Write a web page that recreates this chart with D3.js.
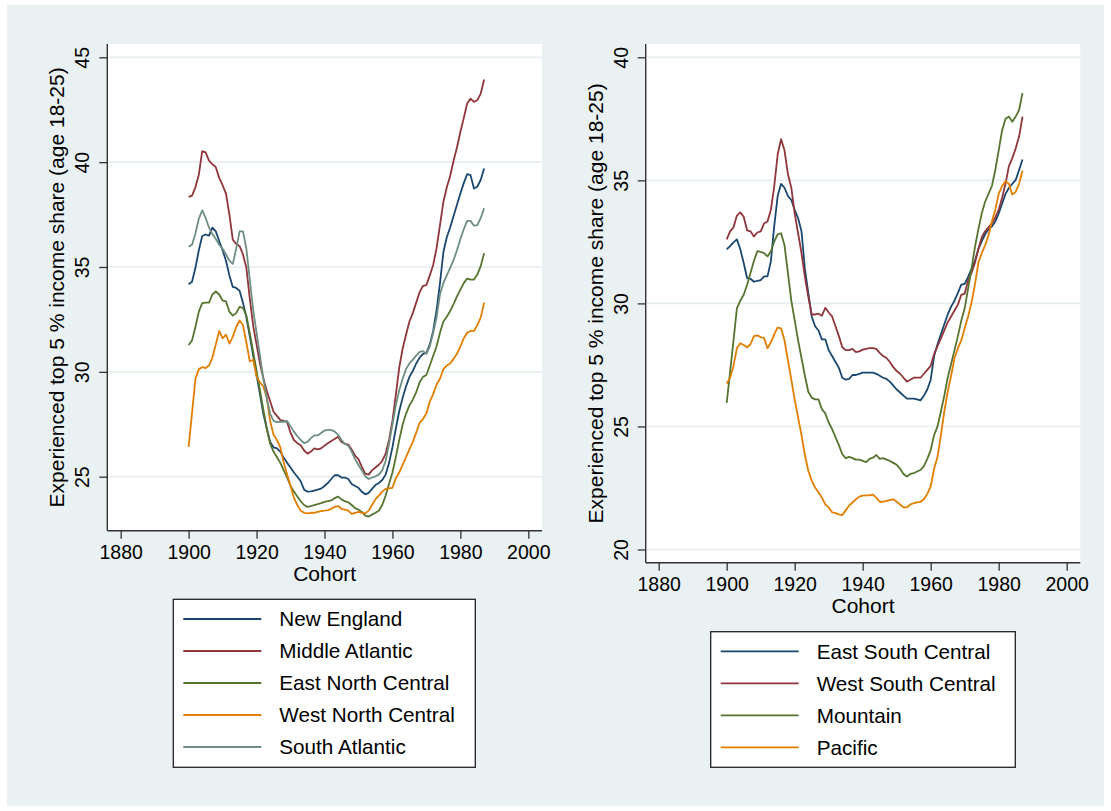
<!DOCTYPE html>
<html>
<head>
<meta charset="utf-8">
<script src="https://cdn.jsdelivr.net/npm/d3@7/dist/d3.min.js"></script>
<style>
body { margin: 0; background: #ffffff; }
text { font-family: Arial, "Liberation Sans", sans-serif; fill: #000000; }
</style>
</head>
<body>
<script>
// cohorts on the x axis
var cohorts = [1900,1901,1902,1903,1904,1905,1906,1907,1908,1909,
  1910,1911,1912,1913,1914,1915,1916,1917,1918,1919,
  1920,1921,1922,1923,1924,1925,1926,1927,1928,1929,
  1930,1931,1932,1933,1934,1935,1936,1937,1938,1939,
  1940,1941,1942,1943,1944,1945,1946,1947,1948,1949,
  1950,1951,1952,1953,1954,1955,1956,1957,1958,1959,
  1960,1961,1962,1963,1964,1965,1966,1967,1968,1969,
  1970,1971,1972,1973,1974,1975,1976,1977,1978,1979,
  1980,1981,1982,1983,1984,1985,1986,1987];

// left panel
var newEngland = [34.18,34.3,34.96,35.8,36.48,36.55,36.5,36.88,36.7,36.24,
  35.8,35.3,34.6,34.05,34.0,33.87,33.3,32.6,31.7,30.77,
  29.85,28.94,28.0,27.3,26.66,26.4,26.35,26.2,25.9,25.66,
  25.44,25.2,25.0,24.78,24.38,24.29,24.3,24.34,24.38,24.43,
  24.56,24.7,24.89,25.07,25.07,24.96,24.96,24.89,24.65,24.56,
  24.47,24.28,24.16,24.23,24.42,24.6,24.7,24.84,25.1,25.65,
  26.4,27.3,28.12,28.76,29.3,29.76,30.04,30.4,30.68,30.86,
  30.9,31.31,31.95,32.95,34.23,35.7,36.42,36.88,37.43,37.97,
  38.5,39.0,39.43,39.38,38.74,38.83,39.16,39.7];
var middleAtlantic = [38.34,38.4,38.8,39.4,40.53,40.47,40.07,39.9,39.76,39.25,
  38.9,38.5,37.5,36.3,36.1,36.0,35.6,34.96,33.5,32.2,
  31.3,30.4,29.7,29.1,28.6,28.1,27.9,27.7,27.67,27.6,
  27.1,26.75,26.6,26.5,26.25,26.1,26.2,26.35,26.3,26.35,
  26.48,26.6,26.7,26.8,26.9,26.66,26.57,26.53,26.3,26.0,
  25.84,25.47,25.15,25.1,25.3,25.44,25.57,25.75,26.1,26.75,
  27.66,28.9,30.2,31.1,31.77,32.4,32.8,33.3,33.8,34.1,
  34.14,34.6,35.1,35.9,37.0,38.1,38.8,39.34,40.07,40.7,
  41.44,42.1,42.8,43.03,42.87,42.96,43.27,43.94];
var eastNorthCentral = [31.28,31.5,32.14,32.87,33.28,33.3,33.3,33.69,33.83,33.69,
  33.4,33.36,32.87,32.68,32.8,33.1,33.05,32.68,31.86,30.95,
  30.04,29.12,28.2,27.3,26.57,26.2,25.93,25.66,25.3,24.96,
  24.56,24.29,24.05,23.83,23.65,23.56,23.6,23.65,23.69,23.74,
  23.8,23.83,23.87,23.98,24.05,23.92,23.83,23.78,23.65,23.5,
  23.43,23.32,23.14,23.1,23.19,23.28,23.38,23.65,24.1,24.65,
  25.2,25.93,26.75,27.48,28.0,28.4,28.67,29.03,29.5,29.76,
  29.85,30.3,30.77,31.22,31.86,32.4,32.63,32.9,33.23,33.6,
  33.92,34.23,34.45,34.4,34.4,34.64,35.05,35.66];
var westNorthCentral = [26.42,28.03,29.67,30.13,30.22,30.18,30.3,30.68,31.3,31.95,
  31.6,31.77,31.35,31.68,32.14,32.45,32.23,31.4,30.5,30.58,
  29.76,29.5,29.3,28.76,27.66,27.0,26.75,26.4,25.66,25.1,
  24.56,24.0,23.65,23.38,23.28,23.25,23.28,23.28,23.32,23.36,
  23.38,23.41,23.47,23.56,23.6,23.47,23.43,23.38,23.23,23.28,
  23.32,23.28,23.25,23.38,23.65,23.92,24.1,24.29,24.42,24.45,
  24.47,24.93,25.2,25.56,25.93,26.3,26.66,27.1,27.57,27.75,
  28.03,28.58,28.94,29.4,29.67,30.13,30.3,30.4,30.62,30.86,
  31.22,31.6,31.86,31.95,31.95,32.23,32.6,33.3];
var southAtlantic = [35.97,36.06,36.6,37.3,37.7,37.34,36.88,36.57,36.33,36.06,
  35.87,35.6,35.3,35.15,35.87,36.7,36.7,35.87,34.4,32.96,
  31.86,30.77,29.67,28.76,28.0,27.66,27.6,27.62,27.62,27.66,
  27.4,27.15,26.93,26.75,26.6,26.66,26.84,26.97,26.97,27.08,
  27.2,27.23,27.23,27.15,27.0,26.75,26.57,26.48,26.2,25.84,
  25.56,25.3,25.02,24.89,24.96,25.02,25.1,25.3,25.75,26.57,
  27.48,28.4,29.12,29.67,30.13,30.4,30.58,30.77,30.95,30.99,
  30.86,31.22,31.86,32.6,33.7,34.23,34.6,34.96,35.33,35.8,
  36.33,36.8,37.2,37.2,36.97,37.0,37.34,37.8];

// right panel
var eastSouthCentral = [32.2,32.33,32.48,32.6,32.2,31.64,31.03,31.0,30.88,30.92,
  30.95,31.1,31.1,31.72,33.17,34.37,34.86,34.7,34.37,34.2,
  33.8,33.46,32.93,31.4,30.43,29.47,29.07,28.9,28.54,28.54,
  28.1,27.86,27.62,27.38,26.98,26.9,26.93,27.09,27.09,27.14,
  27.19,27.19,27.19,27.19,27.14,27.06,26.98,26.93,26.82,26.66,
  26.5,26.38,26.25,26.13,26.13,26.13,26.1,26.06,26.25,26.5,
  26.9,27.86,28.34,28.75,29.15,29.55,29.87,30.11,30.43,30.76,
  30.79,31.08,31.4,31.72,32.2,32.52,32.81,33.0,33.13,33.33,
  33.65,34.05,34.45,34.69,34.86,35.02,35.42,35.85];
var westSouthCentral = [32.6,32.93,33.09,33.57,33.7,33.52,32.97,32.93,32.72,32.88,
  32.93,33.25,33.33,33.81,34.78,36.06,36.67,36.22,35.26,34.7,
  33.65,32.85,32.04,31.08,30.27,29.55,29.55,29.58,29.5,29.82,
  29.63,29.47,29.07,28.67,28.22,28.1,28.1,28.15,28.02,28.05,
  28.12,28.15,28.18,28.18,28.15,27.99,27.86,27.78,27.62,27.41,
  27.25,27.14,26.98,26.82,26.9,26.98,26.98,26.98,27.14,27.3,
  27.46,27.94,28.26,28.58,28.9,29.23,29.47,29.71,29.95,30.35,
  30.4,30.92,31.24,31.64,32.2,32.68,32.93,33.09,33.25,33.49,
  33.81,34.29,34.86,35.58,35.9,36.3,36.78,37.59];
var mountain = [25.96,27.22,28.5,29.8,30.11,30.35,30.76,31.24,31.72,32.12,
  32.09,32.04,31.91,32.12,32.52,32.81,32.85,32.36,31.24,30.11,
  29.31,28.5,27.78,27.06,26.41,26.17,26.1,26.1,25.7,25.53,
  25.16,24.89,24.57,24.24,23.87,23.71,23.76,23.71,23.65,23.65,
  23.6,23.55,23.68,23.73,23.84,23.68,23.71,23.65,23.6,23.52,
  23.44,23.28,23.07,22.96,23.07,23.1,23.17,23.23,23.39,23.68,
  24.04,24.65,25.0,25.61,26.25,26.98,27.54,28.1,28.67,29.31,
  29.8,30.6,31.4,32.28,33.0,33.65,34.13,34.45,34.77,35.42,
  36.22,37.03,37.5,37.59,37.38,37.59,37.86,38.55];
var pacific = [26.74,26.98,27.46,28.18,28.38,28.31,28.22,28.34,28.67,28.7,
  28.63,28.59,28.18,28.42,28.75,29.02,28.99,28.5,27.7,26.9,
  26.09,25.37,24.65,23.84,23.2,22.8,22.52,22.32,22.11,21.83,
  21.71,21.51,21.48,21.43,21.4,21.59,21.78,21.91,22.04,22.15,
  22.19,22.2,22.2,22.23,22.11,21.94,21.94,21.98,22.01,22.04,
  21.94,21.83,21.71,21.71,21.83,21.88,21.91,21.94,22.04,22.26,
  22.56,23.28,23.76,24.65,25.61,26.41,27.06,27.78,28.18,28.5,
  28.99,29.47,30.03,30.76,31.64,32.04,32.36,32.77,33.33,33.81,
  34.45,34.77,34.97,34.86,34.42,34.53,34.86,35.39];

var xTicks = [1880, 1900, 1920, 1940, 1960, 1980, 2000];
var leftYTicks = [25, 30, 35, 40, 45];
var rightYTicks = [20, 25, 30, 35, 40];
var leftNames = ["New England", "Middle Atlantic", "East North Central", "West North Central", "South Atlantic"];
var rightNames = ["East South Central", "West South Central", "Mountain", "Pacific"];

// stata s2color
var colors = ["#1a476f", "#90353b", "#55752f", "#e37e00", "#6e8e84"];
var yTitle = "Experienced top 5 % income share (age 18-25)";

var svg = d3.select("body").append("svg")
  .attr("width", 1111)
  .attr("height", 811);

svg.append("rect")
  .attr("x", 7).attr("y", 5)
  .attr("width", 1097).attr("height", 801)
  .attr("fill", "#eaf1f3");

function drawPanel(p) {
  var g = svg.append("g");
  var x = d3.scaleLinear().domain([1880, 2000]).range([p.x1880, p.x2000]);
  var y = d3.scaleLinear().domain([p.yTicks[0], p.yTicks[p.yTicks.length - 1]]).range([p.yLow, p.yHigh]);

  // plot region
  g.append("rect")
    .attr("x", p.left).attr("y", p.top)
    .attr("width", p.right - p.left).attr("height", p.bottom - p.top)
    .attr("fill", "#ffffff");

  // grid
  g.selectAll(".grid").data(p.yTicks).enter().append("line")
    .attr("x1", p.left).attr("x2", p.right)
    .attr("y1", function (d) { return y(d); })
    .attr("y2", function (d) { return y(d); })
    .attr("stroke", "#e6eef1")
    .attr("stroke-width", 1.6);

  // lines
  var line = d3.line()
    .x(function (d, i) { return x(cohorts[i]); })
    .y(function (d) { return y(d); })
    .curve(d3.curveLinear);
  p.series.forEach(function (s, i) {
    g.append("path")
      .attr("d", line(s))
      .attr("fill", "none")
      .attr("stroke", colors[i])
      .attr("stroke-width", 1.8)
      .attr("stroke-linejoin", "round");
  });

  // axes
  var ax = g.append("g")
    .attr("transform", "translate(0," + p.bottom + ")")
    .call(d3.axisBottom(x).tickValues(xTicks).tickSize(8).tickSizeOuter(0).tickFormat(d3.format("d")));
  ax.select(".domain").remove();
  ax.selectAll("line").attr("stroke", "#333333").attr("stroke-width", 1.3);
  ax.selectAll("text")
    .attr("y", 28).attr("dy", 0)
    .attr("font-size", "19.5px")
    .attr("font-family", "Arial, 'Liberation Sans', sans-serif")
    .attr("fill", "#000");

  var ay = g.append("g")
    .attr("transform", "translate(" + p.left + ",0)")
    .call(d3.axisLeft(y).tickValues(p.yTicks).tickSize(8).tickSizeOuter(0).tickFormat(d3.format("d")));
  ay.select(".domain").remove();
  ay.selectAll("line").attr("stroke", "#333333").attr("stroke-width", 1.3);
  ay.selectAll("text")
    .attr("x", 0).attr("dy", 0)
    .attr("transform", "translate(-18,0) rotate(-90)")
    .attr("text-anchor", "middle")
    .attr("font-size", "19.5px")
    .attr("font-family", "Arial, 'Liberation Sans', sans-serif")
    .attr("fill", "#000");

  // axis lines
  g.append("line")
    .attr("x1", p.left).attr("x2", p.left)
    .attr("y1", p.top).attr("y2", p.bottom)
    .attr("stroke", "#333333").attr("stroke-width", 1.4);
  g.append("line")
    .attr("x1", p.left).attr("x2", p.right)
    .attr("y1", p.bottom).attr("y2", p.bottom)
    .attr("stroke", "#333333").attr("stroke-width", 1.4);

  // titles
  var cx = (p.left + p.right) / 2;
  g.append("text")
    .attr("x", cx).attr("y", p.bottom + 50)
    .attr("text-anchor", "middle")
    .attr("font-size", "21px")
    .text("Cohort");
  g.append("text")
    .attr("transform", "translate(" + (p.left - 43) + "," + ((p.top + p.bottom) / 2) + ") rotate(-90)")
    .attr("text-anchor", "middle")
    .attr("font-size", "21px")
    .text(yTitle);

  // legend
  var lg = g.append("g");
  lg.append("rect")
    .attr("x", p.legX).attr("y", p.legY)
    .attr("width", p.legW).attr("height", p.legH)
    .attr("fill", "#ffffff")
    .attr("stroke", "#222222")
    .attr("stroke-width", 1.3);
  p.names.forEach(function (n, i) {
    var ry = p.legY + 19.7 + i * 32;
    lg.append("line")
      .attr("x1", p.legX + 10).attr("x2", p.legX + 88)
      .attr("y1", ry).attr("y2", ry)
      .attr("stroke", colors[i]).attr("stroke-width", 1.8);
    lg.append("text")
      .attr("x", p.legX + 106).attr("y", ry + 7.3)
      .attr("font-size", "20.7px")
      .text(n);
  });
}

drawPanel({
  left: 107.3, right: 542, top: 44, bottom: 530.7,
  x1880: 120.7, x2000: 528.3,
  yTicks: leftYTicks, yLow: 476.7, yHigh: 57.3,
  series: [newEngland, middleAtlantic, eastNorthCentral, westNorthCentral, southAtlantic],
  names: leftNames,
  legX: 173.3, legY: 599.3, legW: 302, legH: 168
});

drawPanel({
  left: 645.7, right: 1080.3, top: 44, bottom: 562.7,
  x1880: 658.7, x2000: 1066.7,
  yTicks: rightYTicks, yLow: 549.5, yHigh: 57.3,
  series: [eastSouthCentral, westSouthCentral, mountain, pacific],
  names: rightNames,
  legX: 710.7, legY: 631.7, legW: 304.6, legH: 135.6
});
</script>
</body>
</html>
